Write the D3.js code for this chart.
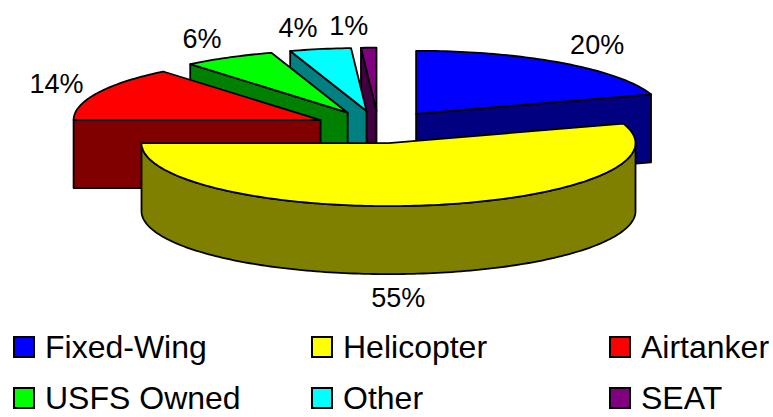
<!DOCTYPE html>
<html lang="en">
<head>
	<meta charset="utf-8">
	<title>Aircraft share</title>
	<script src="https://d3js.org/d3.v7.min.js"></script>
	<style type="text/css">
		body {
			margin: 0;
			background: #fff;
			font-family: "Liberation Sans", Arial, sans-serif;
		}

		svg {
			display: block;
		}

		.face {
			stroke: #000;
			stroke-width: 1.8px;
			stroke-linejoin: round;
		}

		.pct {
			font-size: 27px;
			fill: #000;
		}

		.legend text {
			font-size: 32px;
			fill: #000;
		}

		.legend rect {
			stroke: #000;
			stroke-width: 2px;
		}
	</style>
</head>
<body>
	<div id="vis"></div>

	<script type="text/javascript">

		/* Data */
		/* ==== */

		const categories = ["Fixed-Wing", "Helicopter", "Airtanker", "USFS Owned", "Other", "SEAT"];
		const shares = [20, 55, 14, 6, 4, 1];
		const pctLabels = ["20%", "55%", "14%", "6%", "4%", "1%"];
		const topColors = ["#0000ff", "#ffff00", "#ff0000", "#00ff00", "#00ffff", "#800080"];
		const sideColors = ["#000080", "#808000", "#800000", "#008000", "#008080", "#400040"];


		function make() {

			/* Set up */
			/* ====== */

			var width = 773,
				height = 417;

			var svg = d3.select('#vis')
				.append('svg')
				.attr('width', width)
				.attr('height', height);

			// Projected pie: ellipse radii, wall depth and explode distance
			var cx = 378.5,
				cy = 127,
				rx = 247,
				ry = 63,
				depth = 68,
				explode = 64;

			var pie = d3.pie()
				.sort(null)
				.value(function (d) { return d.value; })
				.startAngle(0)
				.endAngle(2 * Math.PI);

			var rows = categories.map(function (c, i) {
				return { name: c, value: shares[i], label: pctLabels[i], top: topColors[i], side: sideColors[i] };
			});

			var arcs = pie(rows);

			arcs.forEach(function (a) {
				a.mid = (a.startAngle + a.endAngle) / 2;
				a.c = [cx + explode * Math.sin(a.mid), cy - explode * (ry / rx) * Math.cos(a.mid)];
			});

			function pt(c, th, dy) {
				return [c[0] + rx * Math.sin(th), c[1] - ry * Math.cos(th) + (dy || 0)];
			}

			function arcPts(c, a0, a1, dy) {
				var n = Math.max(2, Math.ceil(Math.abs(a1 - a0) / 0.02));
				return d3.range(n + 1).map(function (k) {
					return pt(c, a0 + (a1 - a0) * k / n, dy);
				});
			}

			var line = d3.line();

			/* Draw slices back to front */
			/* ========================= */

			var order = arcs.slice().sort(function (a, b) {
				return Math.cos(b.mid) - Math.cos(a.mid);
			});

			var gPie = svg.append('g').attr('class', 'pie');

			order.forEach(function (a) {
				var g = gPie.append('g').attr('class', 'slice');
				var c = a.c;
				var cb = [c[0], c[1] + depth];

				// radial cut faces, only those turned towards the viewer
				[[a.startAngle, a.startAngle - Math.PI / 2], [a.endAngle, a.endAngle + Math.PI / 2]].forEach(function (f) {
					if (Math.cos(f[1]) >= 0) return;
					var e = pt(c, f[0]);
					g.append('path')
						.attr('class', 'face')
						.attr('fill', a.data.side)
						.attr('d', line([c, e, [e[0], e[1] + depth], cb]) + 'Z');
				});

				// front wall (angles between 90 and 270 degrees)
				var w0 = Math.max(a.startAngle, Math.PI / 2),
					w1 = Math.min(a.endAngle, 3 * Math.PI / 2);
				if (w1 > w0) {
					var pts = arcPts(c, w0, w1, 0).concat(arcPts(c, w1, w0, depth));
					g.append('path')
						.attr('class', 'face')
						.attr('fill', a.data.side)
						.attr('d', line(pts) + 'Z');
				}

				// top face
				var topPts = [c].concat(arcPts(c, a.startAngle, a.endAngle, 0));
				g.append('path')
					.attr('class', 'face')
					.attr('fill', a.data.top)
					.attr('d', line(topPts) + 'Z');
			});

			/* Percentage labels */
			/* ================= */

			svg.append('g').attr('class', 'pct-labels')
				.selectAll('text')
				.data(arcs).enter()
				.append('text')
				.attr('class', 'pct')
				.attr('dy', '0.35em')
				.each(function (a) {
					var s = Math.sin(a.mid),
						co = Math.cos(a.mid),
						t = d3.select(this),
						x, y, anchor;
					if (co < 0) {
						anchor = 'middle';
						x = a.c[0] + 0.25 * rx * s;
						y = a.c[1] - (ry + 24) * co + depth;
					} else {
						anchor = s >= 0 ? 'start' : 'end';
						x = a.c[0] + (rx + 15) * s;
						y = a.c[1] - (ry + 22) * co;
					}
					t.attr('x', x).attr('y', y).attr('text-anchor', anchor).text(a.data.label);
				});

			/* Legend */
			/* ====== */

			var colX = d3.scalePoint().domain([0, 1, 2]).range([14, 610]);
			var rowY = d3.scalePoint().domain([0, 1]).range([358, 409]);

			var legend = svg.append('g').attr('class', 'legend')
				.selectAll('g')
				.data(rows).enter()
				.append('g')
				.attr('transform', function (d, i) {
					return 'translate(' + colX(i % 3) + ',' + rowY(Math.floor(i / 3)) + ')';
				});

			legend.append('rect')
				.attr('x', 0)
				.attr('y', -21)
				.attr('width', 20)
				.attr('height', 20)
				.attr('fill', function (d) { return d.top; });

			legend.append('text')
				.attr('x', 31)
				.attr('y', 0)
				.text(function (d) { return d.name; });

		} // make()

		make();

	</script>
</body>
</html>
